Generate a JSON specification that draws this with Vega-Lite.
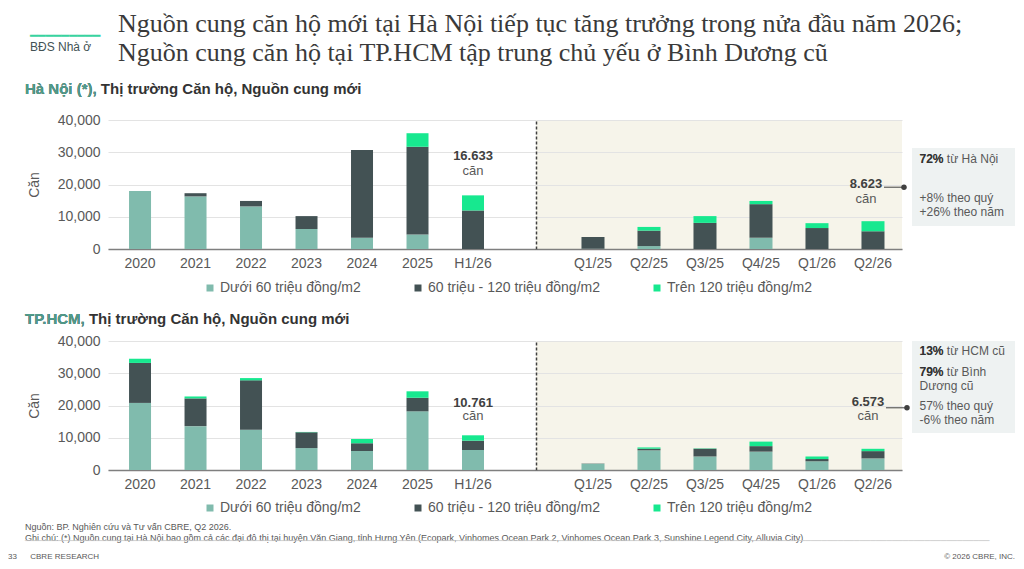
{
 "$schema": "https://vega.github.io/schema/vega-lite/v6.json",
 "background": "white",
 "padding": {"left": 8, "top": 11, "right": 9, "bottom": 2},
 "config": {
  "font": "Liberation Sans",
  "view": {"stroke": null},
  "axis": {"labelFont": "Liberation Sans", "titleFont": "Liberation Sans", "labelFontSize": 14, "labelColor": "#595959", "titleColor": "#595959", "titleFontSize": 14, "titleFontWeight": "normal", "ticks": false, "gridColor": "#e3e3e3", "gridWidth": 1, "labelOverlap": false},
  "legend": {"labelFont": "Liberation Sans"},
  "title": {"font": "Liberation Sans"}
 },
 "datasets": {
  "bars": [
   {"c":"HN","g":"y","p":"2020","s":"Dưới 60 triệu đồng/m2","k":1,"v":18000},
   {"c":"HN","g":"y","p":"2020","s":"60 triệu - 120 triệu đồng/m2","k":2,"v":0},
   {"c":"HN","g":"y","p":"2020","s":"Trên 120 triệu đồng/m2","k":3,"v":0},
   {"c":"HN","g":"y","p":"2021","s":"Dưới 60 triệu đồng/m2","k":1,"v":16300},
   {"c":"HN","g":"y","p":"2021","s":"60 triệu - 120 triệu đồng/m2","k":2,"v":1000},
   {"c":"HN","g":"y","p":"2021","s":"Trên 120 triệu đồng/m2","k":3,"v":0},
   {"c":"HN","g":"y","p":"2022","s":"Dưới 60 triệu đồng/m2","k":1,"v":13200},
   {"c":"HN","g":"y","p":"2022","s":"60 triệu - 120 triệu đồng/m2","k":2,"v":1700},
   {"c":"HN","g":"y","p":"2022","s":"Trên 120 triệu đồng/m2","k":3,"v":0},
   {"c":"HN","g":"y","p":"2023","s":"Dưới 60 triệu đồng/m2","k":1,"v":6200},
   {"c":"HN","g":"y","p":"2023","s":"60 triệu - 120 triệu đồng/m2","k":2,"v":4000},
   {"c":"HN","g":"y","p":"2023","s":"Trên 120 triệu đồng/m2","k":3,"v":0},
   {"c":"HN","g":"y","p":"2024","s":"Dưới 60 triệu đồng/m2","k":1,"v":3500},
   {"c":"HN","g":"y","p":"2024","s":"60 triệu - 120 triệu đồng/m2","k":2,"v":27200},
   {"c":"HN","g":"y","p":"2024","s":"Trên 120 triệu đồng/m2","k":3,"v":0},
   {"c":"HN","g":"y","p":"2025","s":"Dưới 60 triệu đồng/m2","k":1,"v":4500},
   {"c":"HN","g":"y","p":"2025","s":"60 triệu - 120 triệu đồng/m2","k":2,"v":27200},
   {"c":"HN","g":"y","p":"2025","s":"Trên 120 triệu đồng/m2","k":3,"v":4200},
   {"c":"HN","g":"y","p":"H1/26","s":"Dưới 60 triệu đồng/m2","k":1,"v":0},
   {"c":"HN","g":"y","p":"H1/26","s":"60 triệu - 120 triệu đồng/m2","k":2,"v":11950},
   {"c":"HN","g":"y","p":"H1/26","s":"Trên 120 triệu đồng/m2","k":3,"v":4683},
   {"c":"HN","g":"q","p":"Q1/25","s":"Dưới 60 triệu đồng/m2","k":1,"v":100},
   {"c":"HN","g":"q","p":"Q1/25","s":"60 triệu - 120 triệu đồng/m2","k":2,"v":3600},
   {"c":"HN","g":"q","p":"Q1/25","s":"Trên 120 triệu đồng/m2","k":3,"v":0},
   {"c":"HN","g":"q","p":"Q2/25","s":"Dưới 60 triệu đồng/m2","k":1,"v":900},
   {"c":"HN","g":"q","p":"Q2/25","s":"60 triệu - 120 triệu đồng/m2","k":2,"v":4800},
   {"c":"HN","g":"q","p":"Q2/25","s":"Trên 120 triệu đồng/m2","k":3,"v":1144},
   {"c":"HN","g":"q","p":"Q3/25","s":"Dưới 60 triệu đồng/m2","k":1,"v":0},
   {"c":"HN","g":"q","p":"Q3/25","s":"60 triệu - 120 triệu đồng/m2","k":2,"v":8100},
   {"c":"HN","g":"q","p":"Q3/25","s":"Trên 120 triệu đồng/m2","k":3,"v":2100},
   {"c":"HN","g":"q","p":"Q4/25","s":"Dưới 60 triệu đồng/m2","k":1,"v":3500},
   {"c":"HN","g":"q","p":"Q4/25","s":"60 triệu - 120 triệu đồng/m2","k":2,"v":10400},
   {"c":"HN","g":"q","p":"Q4/25","s":"Trên 120 triệu đồng/m2","k":3,"v":1000},
   {"c":"HN","g":"q","p":"Q1/26","s":"Dưới 60 triệu đồng/m2","k":1,"v":0},
   {"c":"HN","g":"q","p":"Q1/26","s":"60 triệu - 120 triệu đồng/m2","k":2,"v":6500},
   {"c":"HN","g":"q","p":"Q1/26","s":"Trên 120 triệu đồng/m2","k":3,"v":1510},
   {"c":"HN","g":"q","p":"Q2/26","s":"Dưới 60 triệu đồng/m2","k":1,"v":0},
   {"c":"HN","g":"q","p":"Q2/26","s":"60 triệu - 120 triệu đồng/m2","k":2,"v":5500},
   {"c":"HN","g":"q","p":"Q2/26","s":"Trên 120 triệu đồng/m2","k":3,"v":3123},
   {"c":"HCM","g":"y","p":"2020","s":"Dưới 60 triệu đồng/m2","k":1,"v":20800},
   {"c":"HCM","g":"y","p":"2020","s":"60 triệu - 120 triệu đồng/m2","k":2,"v":12400},
   {"c":"HCM","g":"y","p":"2020","s":"Trên 120 triệu đồng/m2","k":3,"v":1300},
   {"c":"HCM","g":"y","p":"2021","s":"Dưới 60 triệu đồng/m2","k":1,"v":13600},
   {"c":"HCM","g":"y","p":"2021","s":"60 triệu - 120 triệu đồng/m2","k":2,"v":8600},
   {"c":"HCM","g":"y","p":"2021","s":"Trên 120 triệu đồng/m2","k":3,"v":600},
   {"c":"HCM","g":"y","p":"2022","s":"Dưới 60 triệu đồng/m2","k":1,"v":12500},
   {"c":"HCM","g":"y","p":"2022","s":"60 triệu - 120 triệu đồng/m2","k":2,"v":15300},
   {"c":"HCM","g":"y","p":"2022","s":"Trên 120 triệu đồng/m2","k":3,"v":700},
   {"c":"HCM","g":"y","p":"2023","s":"Dưới 60 triệu đồng/m2","k":1,"v":6800},
   {"c":"HCM","g":"y","p":"2023","s":"60 triệu - 120 triệu đồng/m2","k":2,"v":4900},
   {"c":"HCM","g":"y","p":"2023","s":"Trên 120 triệu đồng/m2","k":3,"v":100},
   {"c":"HCM","g":"y","p":"2024","s":"Dưới 60 triệu đồng/m2","k":1,"v":5900},
   {"c":"HCM","g":"y","p":"2024","s":"60 triệu - 120 triệu đồng/m2","k":2,"v":2400},
   {"c":"HCM","g":"y","p":"2024","s":"Trên 120 triệu đồng/m2","k":3,"v":1300},
   {"c":"HCM","g":"y","p":"2025","s":"Dưới 60 triệu đồng/m2","k":1,"v":18200},
   {"c":"HCM","g":"y","p":"2025","s":"60 triệu - 120 triệu đồng/m2","k":2,"v":4200},
   {"c":"HCM","g":"y","p":"2025","s":"Trên 120 triệu đồng/m2","k":3,"v":2000},
   {"c":"HCM","g":"y","p":"H1/26","s":"Dưới 60 triệu đồng/m2","k":1,"v":6200},
   {"c":"HCM","g":"y","p":"H1/26","s":"60 triệu - 120 triệu đồng/m2","k":2,"v":2900},
   {"c":"HCM","g":"y","p":"H1/26","s":"Trên 120 triệu đồng/m2","k":3,"v":1661},
   {"c":"HCM","g":"q","p":"Q1/25","s":"Dưới 60 triệu đồng/m2","k":1,"v":1900},
   {"c":"HCM","g":"q","p":"Q1/25","s":"60 triệu - 120 triệu đồng/m2","k":2,"v":100},
   {"c":"HCM","g":"q","p":"Q1/25","s":"Trên 120 triệu đồng/m2","k":3,"v":0},
   {"c":"HCM","g":"q","p":"Q2/25","s":"Dưới 60 triệu đồng/m2","k":1,"v":6100},
   {"c":"HCM","g":"q","p":"Q2/25","s":"60 triệu - 120 triệu đồng/m2","k":2,"v":500},
   {"c":"HCM","g":"q","p":"Q2/25","s":"Trên 120 triệu đồng/m2","k":3,"v":400},
   {"c":"HCM","g":"q","p":"Q3/25","s":"Dưới 60 triệu đồng/m2","k":1,"v":4200},
   {"c":"HCM","g":"q","p":"Q3/25","s":"60 triệu - 120 triệu đồng/m2","k":2,"v":2400},
   {"c":"HCM","g":"q","p":"Q3/25","s":"Trên 120 triệu đồng/m2","k":3,"v":100},
   {"c":"HCM","g":"q","p":"Q4/25","s":"Dưới 60 triệu đồng/m2","k":1,"v":5700},
   {"c":"HCM","g":"q","p":"Q4/25","s":"60 triệu - 120 triệu đồng/m2","k":2,"v":1700},
   {"c":"HCM","g":"q","p":"Q4/25","s":"Trên 120 triệu đồng/m2","k":3,"v":1400},
   {"c":"HCM","g":"q","p":"Q1/26","s":"Dưới 60 triệu đồng/m2","k":1,"v":2700},
   {"c":"HCM","g":"q","p":"Q1/26","s":"60 triệu - 120 triệu đồng/m2","k":2,"v":700},
   {"c":"HCM","g":"q","p":"Q1/26","s":"Trên 120 triệu đồng/m2","k":3,"v":788},
   {"c":"HCM","g":"q","p":"Q2/26","s":"Dưới 60 triệu đồng/m2","k":1,"v":3600},
   {"c":"HCM","g":"q","p":"Q2/26","s":"60 triệu - 120 triệu đồng/m2","k":2,"v":2250},
   {"c":"HCM","g":"q","p":"Q2/26","s":"Trên 120 triệu đồng/m2","k":3,"v":723}
  ],
  "labels": [
   {"c":"HN","p":"H1/26","v":16633,"label":"16.633"},
   {"c":"HN","p":"Q2/26","v":8623,"label":"8.623"},
   {"c":"HCM","p":"H1/26","v":10761,"label":"10.761"},
   {"c":"HCM","p":"Q2/26","v":6573,"label":"6.573"}
  ],
  "notes": [
   {"c":"HN","n":1,"lines":["72% từ Hà Nội"],"bold":"72%"},
   {"c":"HN","n":2,"lines":["+8% theo quý","+26% theo năm"],"bold":""},
   {"c":"HCM","n":1,"lines":["13% từ HCM cũ"],"bold":"13%"},
   {"c":"HCM","n":2,"lines":["79% từ Bình","Dương cũ"],"bold":"79%"},
   {"c":"HCM","n":3,"lines":["57% theo quý","-6% theo năm"],"bold":""}
  ]
 },
 "title": {"text": "━━━━━━━━━", "subtitle": "BĐS Nhà ở", "anchor": "start", "frame": "group", "dx": -78, "dy": 42, "font": "DejaVu Sans", "fontSize": 13, "fontWeight": "normal", "color": "#38d39f", "subtitleFont": "Liberation Sans", "subtitleFontSize": 12, "subtitleColor": "#435254", "subtitlePadding": -1, "offset": 0},
 "vconcat": [
  {
   "title": {"text": "33\u00a0\u00a0\u00a0\u00a0\u00a0\u00a0CBRE RESEARCH", "orient": "bottom", "anchor": "start", "frame": "group", "dx": -100, "dy": -12, "fontSize": 8, "fontWeight": "normal", "color": "#595959", "offset": 4},
   "vconcat": [
    {
     "title": {"text": "© 2026 CBRE, INC.", "orient": "bottom", "anchor": "end", "frame": "bounds", "fontSize": 8, "fontWeight": "normal", "color": "#595959", "offset": 7},
     "vconcat": [
      {
       "title": {"text": ["Nguồn: BP. Nghiên cứu và Tư vấn CBRE, Q2 2026.", "Ghi chú: (*) Nguồn cung tại Hà Nội bao gồm cả các đại đô thị tại huyện Văn Giang, tỉnh Hưng Yên (Ecopark, Vinhomes Ocean Park 2, Vinhomes Ocean Park 3, Sunshine Legend City, Alluvia City)"], "subtitle": "──────────────────────────────────────────────────────────────────────────────────────────────────────────────────────────────────────────────────────────────────────────────────", "orient": "bottom", "anchor": "start", "frame": "group", "dx": -83, "fontSize": 9, "lineHeight": 11, "fontWeight": "normal", "color": "#595959", "subtitleFont": "DejaVu Sans", "subtitleFontSize": 9, "subtitleColor": "#c8c8c8", "subtitlePadding": -6, "offset": 8},
       "vconcat": [
        {
         "title": {"text": ["Nguồn cung căn hộ mới tại Hà Nội tiếp tục tăng trưởng trong nửa đầu năm 2026;", "Nguồn cung căn hộ tại TP.HCM tập trung chủ yếu ở Bình Dương cũ"], "anchor": "start", "frame": "group", "dx": 10, "font": "Liberation Serif", "fontSize": 26, "lineHeight": 29, "fontWeight": "normal", "color": "#3a3a3a", "offset": 16},
         "spacing": 17,
         "vconcat": [
          {
           "title": {"text": "Hà Nội (*), Thị trường Căn hộ, Nguồn cung mới", "subtitle": "Hà Nội (*),", "anchor": "start", "frame": "group", "dx": -83, "offset": 16, "fontSize": 15, "fontWeight": "bold", "color": "#333333", "subtitleFont": "Liberation Sans", "subtitleFontSize": 15, "subtitleFontWeight": "bold", "subtitleColor": "#4f9c8b", "subtitlePadding": -15},
           "bounds": "flush",
           "spacing": 0,
           "resolve": {"legend": {"color": "independent"}, "scale": {"color": "independent"}},
           "hconcat": [
            {
             "width": 428, "height": 129,
             "encoding": {
              "x": {"field": "p", "type": "nominal", "sort": ["2020","2021","2022","2023","2024","2025","H1/26"], "scale": {"paddingInner": 0.6036, "paddingOuter": 0.658, "align": 0.288}, "axis": {"title": null, "labelAngle": 0, "labelPadding": 7, "domain": true, "domainColor": "#7f7f7f", "domainWidth": 1.5, "grid": false}},
              "y": {"field": "v", "type": "quantitative", "title": "Căn", "scale": {"domain": [0, 40000]}, "axis": {"values": [0,10000,20000,30000,40000], "format": ",.0f", "domain": false, "grid": true, "labelPadding": 8, "titlePadding": 16}}
             },
             "layer": [
              {"data": {"name": "bars"}, "transform": [{"filter": "datum.c === 'HN' && datum.g === 'y'"}],
               "mark": {"type": "bar"},
               "encoding": {
                "color": {"field": "s", "type": "nominal", "scale": {"domain": ["Dưới 60 triệu đồng/m2","60 triệu - 120 triệu đồng/m2","Trên 120 triệu đồng/m2"], "range": ["#80BBAD","#435254","#17E88F"]}, "legend": {"orient": "none", "legendX": 95, "legendY": 161, "direction": "horizontal", "columns": 3, "title": null, "symbolType": "square", "symbolSize": 49, "symbolStrokeWidth": 0, "labelFontSize": 14, "labelColor": "#595959", "labelLimit": 400, "columnPadding": 50, "padding": 0, "labelOffset": 3}},
                "order": {"field": "k", "type": "quantitative"}
               }},
              {"data": {"name": "labels"}, "transform": [{"filter": "datum.c === 'HN' && datum.p === 'H1/26'"}],
               "mark": {"type": "text", "fontSize": 13, "fontWeight": "bold", "color": "#404040", "dy": -39},
               "encoding": {"text": {"field": "label"}}},
              {"data": {"name": "labels"}, "transform": [{"filter": "datum.c === 'HN' && datum.p === 'H1/26'"}],
               "mark": {"type": "text", "fontSize": 13, "color": "#595959", "dy": -24},
               "encoding": {"text": {"value": "căn"}}}
             ]
            },
            {
             "width": 366, "height": 129, "view": {"fill": "#f6f4ea"},
             "encoding": {
              "x": {"field": "p", "type": "nominal", "sort": ["Q1/25","Q2/25","Q3/25","Q4/25","Q1/26","Q2/26"], "scale": {"paddingInner": 0.589, "paddingOuter": 0.5625, "align": 0.722}, "axis": {"title": null, "labelAngle": 0, "labelPadding": 7, "domain": true, "domainColor": "#7f7f7f", "domainWidth": 1.5, "grid": false}},
              "y": {"field": "v", "type": "quantitative", "title": null, "scale": {"domain": [0, 40000]}, "axis": {"values": [0,10000,20000,30000,40000], "labels": false, "domain": true, "domainDash": [3,2], "domainColor": "#404040", "domainWidth": 1.5, "grid": true}}
             },
             "layer": [
              {"data": {"name": "bars"}, "transform": [{"filter": "datum.c === 'HN' && datum.g === 'q'"}],
               "mark": {"type": "bar"},
               "encoding": {
                "color": {"field": "s", "type": "nominal", "scale": {"domain": ["Dưới 60 triệu đồng/m2","60 triệu - 120 triệu đồng/m2","Trên 120 triệu đồng/m2"], "range": ["#80BBAD","#435254","#17E88F"]}, "legend": null},
                "order": {"field": "k", "type": "quantitative"}
               }},
              {"data": {"name": "labels"}, "transform": [{"filter": "datum.c === 'HN' && datum.p === 'Q2/26'"}],
               "mark": {"type": "text", "fontSize": 13, "fontWeight": "bold", "color": "#404040", "dx": -7, "dy": -37},
               "encoding": {"text": {"field": "label"}}},
              {"data": {"name": "labels"}, "transform": [{"filter": "datum.c === 'HN' && datum.p === 'Q2/26'"}],
               "mark": {"type": "text", "fontSize": 13, "color": "#595959", "dx": -7, "dy": -22},
               "encoding": {"text": {"value": "căn"}}},
              {"data": {"name": "labels"}, "transform": [{"filter": "datum.c === 'HN' && datum.p === 'Q2/26'"}],
               "mark": {"type": "rule", "xOffset": 11, "x2Offset": 30, "yOffset": -34, "color": "#404040", "strokeWidth": 1},
               "encoding": {"x2": {"field": "p"}}},
              {"data": {"name": "labels"}, "transform": [{"filter": "datum.c === 'HN' && datum.p === 'Q2/26'"}],
               "mark": {"type": "point", "filled": true, "size": 30, "opacity": 1, "color": "#404040", "xOffset": 31, "yOffset": -34}}
             ]
            },
            {"width": 10, "height": 129, "data": {"values": []}, "mark": "point"},
            {
             "width": 103, "height": 129,
             "data": {"name": "notes"},
             "encoding": {"y": {"datum": 31318, "type": "quantitative", "scale": {"domain": [0, 40000]}, "axis": null}},
             "layer": [
              {"transform": [{"filter": "datum.c === 'HN' && datum.n === 1"}], "mark": {"type": "rect", "color": "#eef2f2"}, "encoding": {"y2": {"datum": 7132}}},
              {"transform": [{"filter": "datum.c === 'HN' && datum.n === 1"}], "mark": {"type": "text", "align": "left", "baseline": "top", "dx": -44, "dy": 6, "fontSize": 12, "lineHeight": 14, "color": "#595959"}, "encoding": {"text": {"field": "lines"}}},
              {"transform": [{"filter": "datum.c === 'HN' && datum.n === 1"}], "mark": {"type": "text", "align": "left", "baseline": "top", "dx": -44, "dy": 6, "fontSize": 12, "fontWeight": "bold", "color": "#333333"}, "encoding": {"text": {"field": "bold"}}},
              {"transform": [{"filter": "datum.c === 'HN' && datum.n === 2"}], "mark": {"type": "text", "align": "left", "baseline": "top", "dx": -44, "dy": 45, "fontSize": 12, "lineHeight": 14, "color": "#595959"}, "encoding": {"text": {"field": "lines"}}}
             ]
            }
           ]
          },
          {
           "title": {"text": "TP.HCM, Thị trường Căn hộ, Nguồn cung mới", "subtitle": "TP.HCM,", "anchor": "start", "frame": "group", "dx": -83, "offset": 7, "fontSize": 15, "fontWeight": "bold", "color": "#333333", "subtitleFont": "Liberation Sans", "subtitleFontSize": 15, "subtitleFontWeight": "bold", "subtitleColor": "#4f9c8b", "subtitlePadding": -15},
           "bounds": "flush",
           "spacing": 0,
           "resolve": {"legend": {"color": "independent"}, "scale": {"color": "independent"}},
           "hconcat": [
            {
             "width": 428, "height": 129,
             "encoding": {
              "x": {"field": "p", "type": "nominal", "sort": ["2020","2021","2022","2023","2024","2025","H1/26"], "scale": {"paddingInner": 0.6036, "paddingOuter": 0.658, "align": 0.288}, "axis": {"title": null, "labelAngle": 0, "labelPadding": 7, "domain": true, "domainColor": "#7f7f7f", "domainWidth": 1.5, "grid": false}},
              "y": {"field": "v", "type": "quantitative", "title": "Căn", "scale": {"domain": [0, 40000]}, "axis": {"values": [0,10000,20000,30000,40000], "format": ",.0f", "domain": false, "grid": true, "labelPadding": 8, "titlePadding": 16}}
             },
             "layer": [
              {"data": {"name": "bars"}, "transform": [{"filter": "datum.c === 'HCM' && datum.g === 'y'"}],
               "mark": {"type": "bar"},
               "encoding": {
                "color": {"field": "s", "type": "nominal", "scale": {"domain": ["Dưới 60 triệu đồng/m2","60 triệu - 120 triệu đồng/m2","Trên 120 triệu đồng/m2"], "range": ["#80BBAD","#435254","#17E88F"]}, "legend": {"orient": "none", "legendX": 95, "legendY": 160, "direction": "horizontal", "columns": 3, "title": null, "symbolType": "square", "symbolSize": 49, "symbolStrokeWidth": 0, "labelFontSize": 14, "labelColor": "#595959", "labelLimit": 400, "columnPadding": 50, "padding": 0, "labelOffset": 3}},
                "order": {"field": "k", "type": "quantitative"}
               }},
              {"data": {"name": "labels"}, "transform": [{"filter": "datum.c === 'HCM' && datum.p === 'H1/26'"}],
               "mark": {"type": "text", "fontSize": 13, "fontWeight": "bold", "color": "#404040", "dy": -32},
               "encoding": {"text": {"field": "label"}}},
              {"data": {"name": "labels"}, "transform": [{"filter": "datum.c === 'HCM' && datum.p === 'H1/26'"}],
               "mark": {"type": "text", "fontSize": 13, "color": "#595959", "dy": -19},
               "encoding": {"text": {"value": "căn"}}}
             ]
            },
            {
             "width": 366, "height": 129, "view": {"fill": "#f6f4ea"},
             "encoding": {
              "x": {"field": "p", "type": "nominal", "sort": ["Q1/25","Q2/25","Q3/25","Q4/25","Q1/26","Q2/26"], "scale": {"paddingInner": 0.589, "paddingOuter": 0.5625, "align": 0.722}, "axis": {"title": null, "labelAngle": 0, "labelPadding": 7, "domain": true, "domainColor": "#7f7f7f", "domainWidth": 1.5, "grid": false}},
              "y": {"field": "v", "type": "quantitative", "title": null, "scale": {"domain": [0, 40000]}, "axis": {"values": [0,10000,20000,30000,40000], "labels": false, "domain": true, "domainDash": [3,2], "domainColor": "#404040", "domainWidth": 1.5, "grid": true}}
             },
             "layer": [
              {"data": {"name": "bars"}, "transform": [{"filter": "datum.c === 'HCM' && datum.g === 'q'"}],
               "mark": {"type": "bar"},
               "encoding": {
                "color": {"field": "s", "type": "nominal", "scale": {"domain": ["Dưới 60 triệu đồng/m2","60 triệu - 120 triệu đồng/m2","Trên 120 triệu đồng/m2"], "range": ["#80BBAD","#435254","#17E88F"]}, "legend": null},
                "order": {"field": "k", "type": "quantitative"}
               }},
              {"data": {"name": "labels"}, "transform": [{"filter": "datum.c === 'HCM' && datum.p === 'Q2/26'"}],
               "mark": {"type": "text", "fontSize": 13, "fontWeight": "bold", "color": "#404040", "dx": -5, "dy": -47},
               "encoding": {"text": {"field": "label"}}},
              {"data": {"name": "labels"}, "transform": [{"filter": "datum.c === 'HCM' && datum.p === 'Q2/26'"}],
               "mark": {"type": "text", "fontSize": 13, "color": "#595959", "dx": -5, "dy": -33},
               "encoding": {"text": {"value": "căn"}}},
              {"data": {"name": "labels"}, "transform": [{"filter": "datum.c === 'HCM' && datum.p === 'Q2/26'"}],
               "mark": {"type": "rule", "xOffset": 13, "x2Offset": 33, "yOffset": -41, "color": "#404040", "strokeWidth": 1},
               "encoding": {"x2": {"field": "p"}}},
              {"data": {"name": "labels"}, "transform": [{"filter": "datum.c === 'HCM' && datum.p === 'Q2/26'"}],
               "mark": {"type": "point", "filled": true, "size": 30, "opacity": 1, "color": "#404040", "xOffset": 34, "yOffset": -41}}
             ]
            },
            {"width": 10, "height": 129, "data": {"values": []}, "mark": "point"},
            {
             "width": 103, "height": 129,
             "data": {"name": "notes"},
             "encoding": {"y": {"datum": 40000, "type": "quantitative", "scale": {"domain": [0, 40000]}, "axis": null}},
             "layer": [
              {"transform": [{"filter": "datum.c === 'HCM' && datum.n === 1"}], "mark": {"type": "rect", "color": "#eef2f2"}, "encoding": {"y2": {"datum": 11473}}},
              {"transform": [{"filter": "datum.c === 'HCM' && datum.n === 1"}], "mark": {"type": "text", "align": "left", "baseline": "top", "dx": -44, "dy": 5, "fontSize": 12, "lineHeight": 14, "color": "#595959"}, "encoding": {"text": {"field": "lines"}}},
              {"transform": [{"filter": "datum.c === 'HCM' && datum.n === 1"}], "mark": {"type": "text", "align": "left", "baseline": "top", "dx": -44, "dy": 5, "fontSize": 12, "fontWeight": "bold", "color": "#333333"}, "encoding": {"text": {"field": "bold"}}},
              {"transform": [{"filter": "datum.c === 'HCM' && datum.n === 2"}], "mark": {"type": "text", "align": "left", "baseline": "top", "dx": -44, "dy": 26, "fontSize": 12, "lineHeight": 14, "color": "#595959"}, "encoding": {"text": {"field": "lines"}}},
              {"transform": [{"filter": "datum.c === 'HCM' && datum.n === 2"}], "mark": {"type": "text", "align": "left", "baseline": "top", "dx": -44, "dy": 26, "fontSize": 12, "fontWeight": "bold", "color": "#333333"}, "encoding": {"text": {"field": "bold"}}},
              {"transform": [{"filter": "datum.c === 'HCM' && datum.n === 3"}], "mark": {"type": "text", "align": "left", "baseline": "top", "dx": -44, "dy": 60, "fontSize": 12, "lineHeight": 14, "color": "#595959"}, "encoding": {"text": {"field": "lines"}}}
             ]
            }
           ]
          }
         ]
        }
       ]
      }
     ]
    }
   ]
  }
 ]
}
